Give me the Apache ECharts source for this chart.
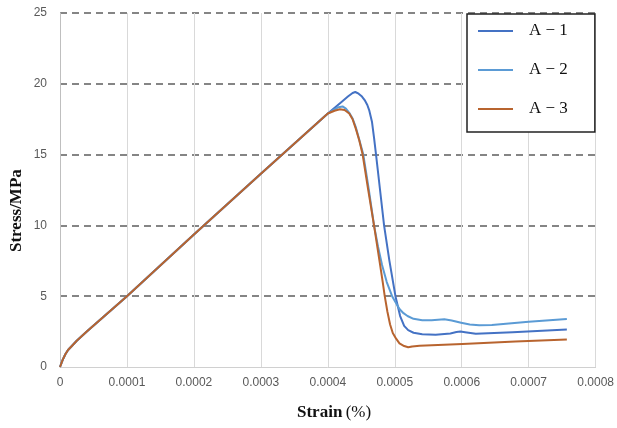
<!DOCTYPE html>
<html>
<head>
<meta charset="utf-8">
<script src="https://cdn.jsdelivr.net/npm/echarts@6/dist/echarts.min.js"></script>
<style>
html,body{margin:0;padding:0;background:#fff;}
#chart{width:617px;height:428px;}
</style>
</head>
<body>
<div id="chart"></div>
<script>
var seriesNames = ['A \u2212 1', 'A \u2212 2', 'A \u2212 3'];
var xTicks = [0, 0.0001, 0.0002, 0.0003, 0.0004, 0.0005, 0.0006, 0.0007, 0.0008];
var yTicks = [0, 5, 10, 15, 20, 25];

var strainA1 = [0, 0.000004, 0.000008, 0.000012, 0.000017, 0.000025, 0.00004, 0.0001, 0.0002, 0.0003, 0.0004, 0.00042, 0.00043, 0.000437, 0.000441, 0.000446, 0.000451, 0.000455, 0.000459, 0.000462, 0.000466, 0.000469, 0.000472, 0.000478, 0.000484, 0.000492, 0.000501, 0.000508, 0.000514, 0.00052, 0.000528, 0.000541, 0.000561, 0.000583, 0.000592, 0.000598, 0.000605, 0.000621, 0.000676, 0.000757];
var stressA1 = [0, 0.5, 0.9, 1.2, 1.45, 1.85, 2.5, 5.0, 9.35, 13.65, 17.9, 18.7, 19.1, 19.35, 19.42, 19.3, 19.1, 18.85, 18.5, 18.1, 17.3, 16.2, 15.0, 12.5, 10.0, 7.5, 5.0, 3.6, 2.9, 2.6, 2.42, 2.31, 2.28, 2.37, 2.47, 2.5, 2.45, 2.35, 2.45, 2.64];

var strainA2 = [0, 0.000004, 0.000008, 0.000012, 0.000017, 0.000025, 0.00004, 0.0001, 0.0002, 0.0003, 0.0004, 0.00041, 0.000416, 0.000422, 0.000427, 0.000432, 0.000437, 0.000442, 0.000447, 0.000453, 0.000461, 0.000469, 0.000475, 0.000481, 0.000488, 0.000496, 0.000502, 0.000507, 0.000513, 0.000519, 0.000528, 0.000541, 0.000555, 0.000574, 0.000585, 0.000599, 0.000612, 0.000626, 0.000645, 0.0007, 0.000757];
var stressA2 = [0, 0.5, 0.9, 1.2, 1.45, 1.85, 2.5, 5.0, 9.35, 13.65, 17.9, 18.2, 18.35, 18.4, 18.25, 17.95, 17.55, 16.9, 16.05, 15.0, 12.6, 10.0, 8.5, 7.2, 6.0, 5.0, 4.5, 4.1, 3.8, 3.6, 3.4, 3.3, 3.3, 3.37, 3.28, 3.13, 3.0, 2.94, 2.97, 3.2, 3.39];

var strainA3 = [0, 0.000004, 0.000008, 0.000012, 0.000017, 0.000025, 0.00004, 0.0001, 0.0002, 0.0003, 0.0004, 0.00041, 0.000418, 0.000425, 0.000432, 0.000437, 0.000442, 0.000447, 0.000452, 0.00046, 0.000469, 0.000477, 0.000482, 0.000485, 0.000489, 0.000493, 0.000497, 0.000502, 0.000507, 0.000514, 0.00052, 0.000526, 0.000537, 0.000601, 0.00068, 0.000757];
var stressA3 = [0, 0.5, 0.9, 1.2, 1.45, 1.85, 2.5, 5.0, 9.35, 13.65, 17.9, 18.1, 18.2, 18.15, 17.9, 17.5, 16.8, 16.0, 15.0, 12.6, 10.0, 7.55, 6.0, 5.0, 3.9, 3.0, 2.4, 2.0, 1.67, 1.48, 1.39, 1.45, 1.5, 1.62, 1.8, 1.95];

var colors = ['#4472C4', '#5B9BD5', '#B8642F'];

function pairs(xs, ys) {
  return xs.map(function (x, i) { return [x, ys[i]]; });
}
var allStrain = [strainA1, strainA2, strainA3];
var allStress = [stressA1, stressA2, stressA3];

var chart = echarts.init(document.getElementById('chart'), null, {renderer: 'canvas'});

var series = seriesNames.map(function (name, i) {
  return {
    name: name,
    type: 'line',
    data: pairs(allStrain[i], allStress[i]),
    showSymbol: false,
    symbol: 'none',
    smooth: false,
    lineStyle: {color: colors[i], width: 2, join: 'round'},
    itemStyle: {color: colors[i]},
    z: 3 + i
  };
});

chart.setOption({
  animation: false,
  backgroundColor: '#ffffff',
  grid: {left: 60, right: 20, top: 13, bottom: 61, containLabel: false},
  xAxis: {
    type: 'value',
    min: xTicks[0],
    max: xTicks[xTicks.length - 1],
    interval: 0.0001,
    axisLine: {show: true, lineStyle: {color: '#d0d0d0', width: 1}},
    axisTick: {show: false},
    axisLabel: {
      color: '#595959', fontFamily: 'Liberation Sans', fontSize: 12, margin: 10,
      formatter: function (v) { return v === 0 ? '0' : v.toFixed(4); }
    },
    splitLine: {show: true, lineStyle: {color: '#d9d9d9', width: 1, type: 'solid'}}
  },
  yAxis: {
    type: 'value',
    min: yTicks[0],
    max: yTicks[yTicks.length - 1],
    interval: 5,
    axisLine: {show: true, lineStyle: {color: '#bfbfbf', width: 1}},
    axisTick: {show: false},
    axisLabel: {color: '#595959', fontFamily: 'Liberation Sans', fontSize: 12, margin: 13},
    splitLine: {show: true, showMinLine: false, lineStyle: {color: '#858585', width: 2, type: [7, 5]}}
  },
  legend: {
    orient: 'vertical',
    left: 467,
    top: 14,
    backgroundColor: '#ffffff',
    borderColor: '#222222',
    borderWidth: 1.5,
    padding: [8, 27, 14, 11],
    itemGap: 21,
    itemWidth: 35,
    itemHeight: 2,
    icon: 'rect',
    textStyle: {fontFamily: 'Liberation Serif', fontSize: 17, color: '#111', lineHeight: 18, padding: [0, 0, 0, 11]},
    data: seriesNames.map(function (n, i) { return {name: n, itemStyle: {color: colors[i]}}; })
  },
  graphic: [
    {
      type: 'text',
      x: 8, y: 252,
      rotation: Math.PI / 2,
      style: {text: 'Stress/MPa', font: 'bold 17px "Liberation Serif"', fill: '#111'}
    },
    {
      type: 'text',
      x: 297, y: 404,
      style: {
        text: '{b|Strain} {n|(%)}',
        rich: {
          b: {font: 'bold 17px "Liberation Serif"', fill: '#111'},
          n: {font: '17px "Liberation Serif"', fill: '#111'}
        }
      }
    }
  ],
  series: series
});
</script>
</body>
</html>
